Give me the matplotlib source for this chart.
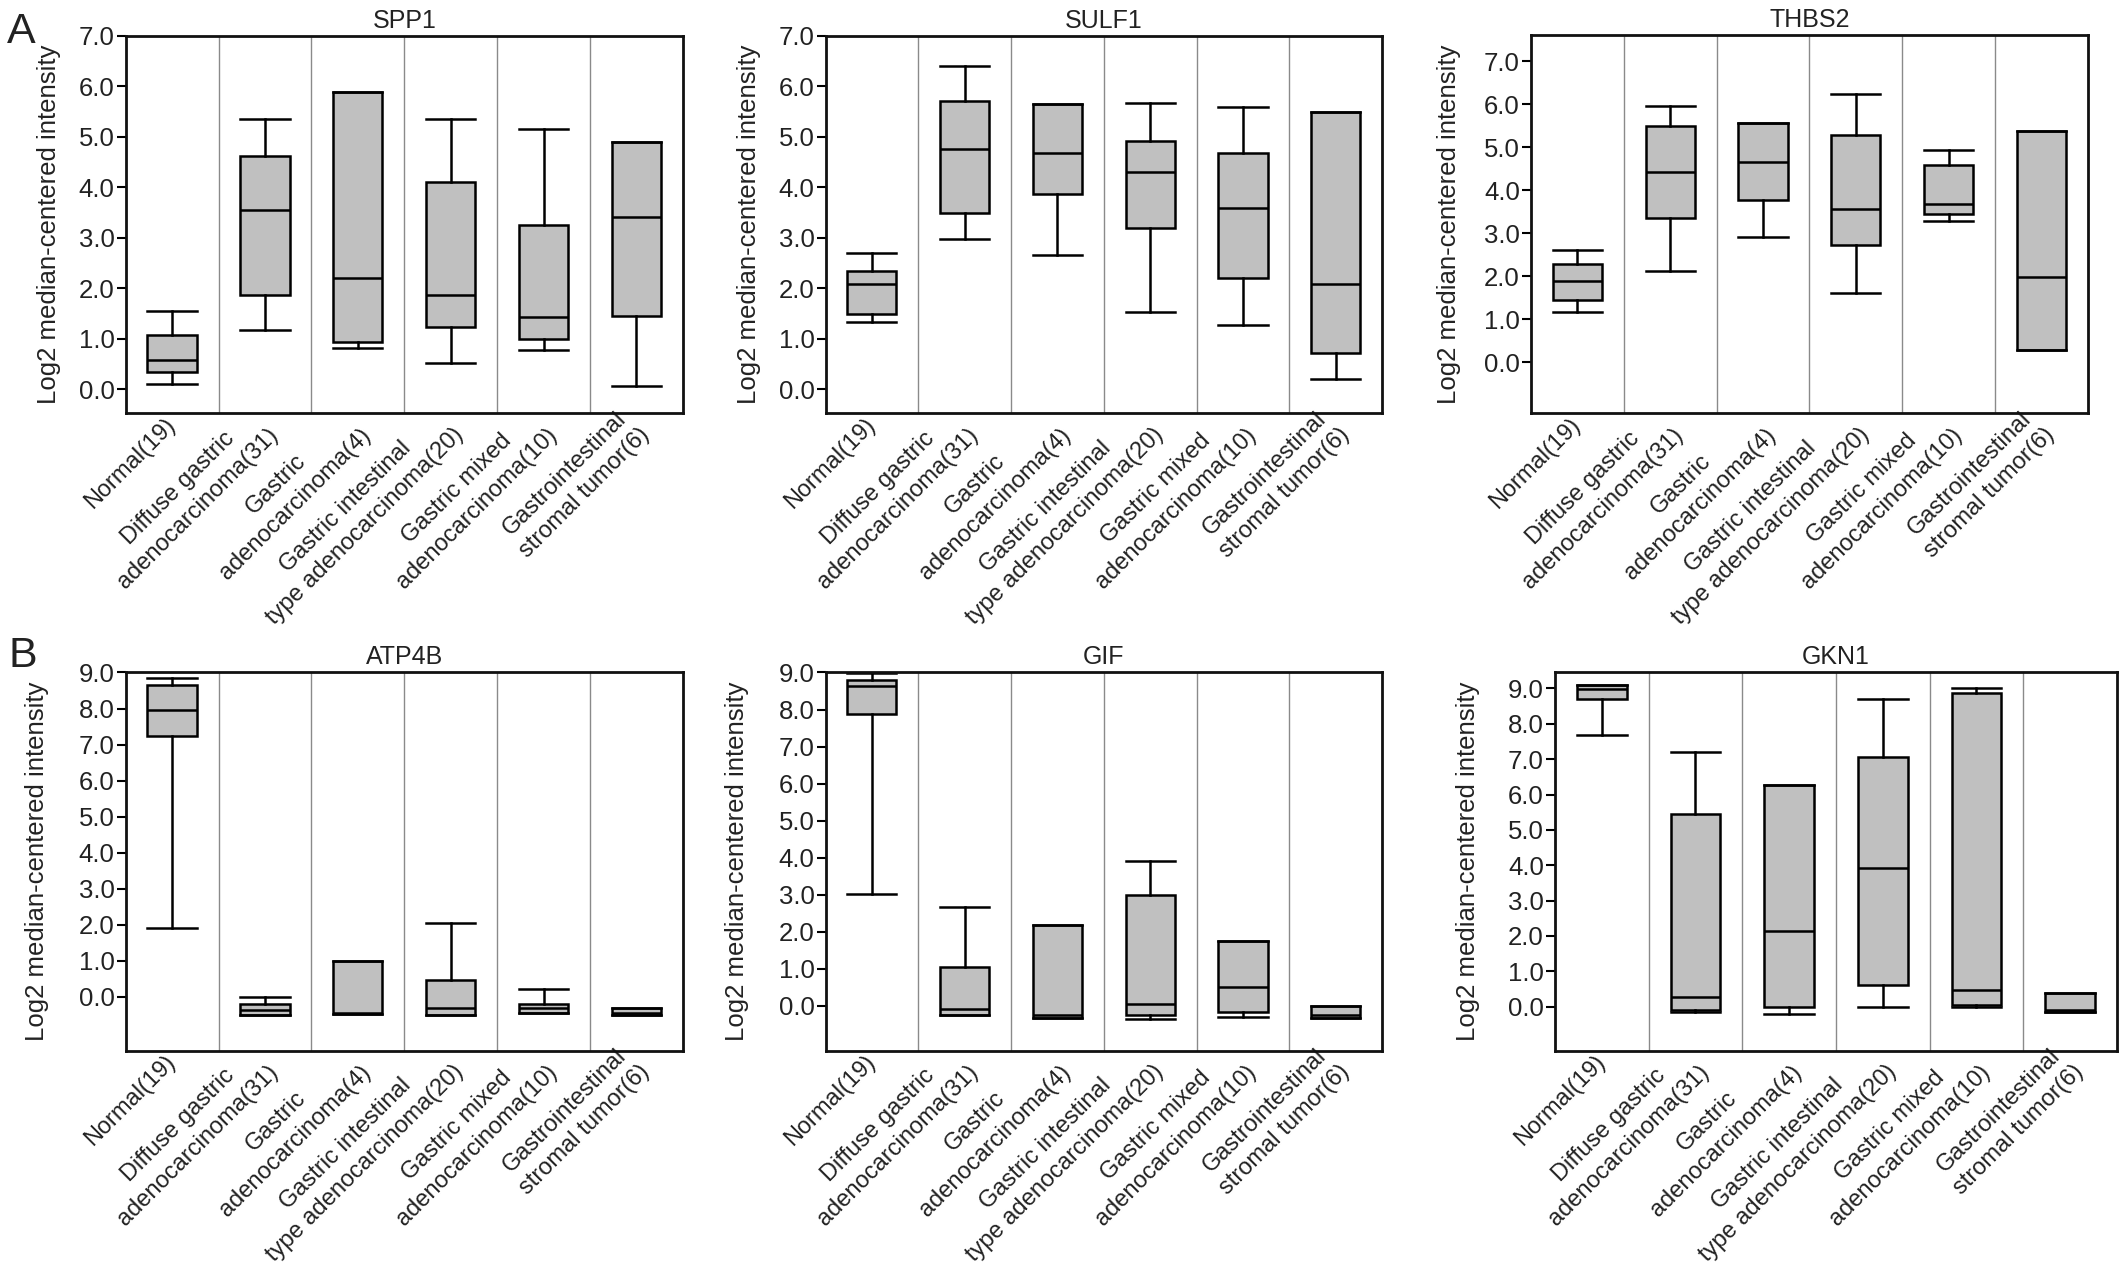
import matplotlib
matplotlib.use('Agg')
import matplotlib.pyplot as plt
from matplotlib.ticker import FormatStrFormatter

plt.rcParams['font.family'] = ['Liberation Sans', 'DejaVu Sans']

# categorias (eixo x)
groups = ["Normal(19)",
          "Diffuse gastric\nadenocarcinoma(31)",
          "Gastric\nadenocarcinoma(4)",
          "Gastric intestinal\ntype adenocarcinoma(20)",
          "Gastric mixed\nadenocarcinoma(10)",
          "Gastrointestinal\nstromal tumor(6)"]

# cada linha: [whisker baixo, Q1, mediana, Q3, whisker alto]
spp1 = [[0.10, 0.34, 0.58, 1.07, 1.55],
        [1.17, 1.87, 3.56, 4.63, 5.35],
        [0.81, 0.94, 2.20, 5.89, 5.89],
        [0.53, 1.23, 1.87, 4.10, 5.35],
        [0.78, 1.00, 1.43, 3.26, 5.16],
        [0.06, 1.46, 3.41, 4.90, 4.90]]

sulf1 = [[1.34, 1.50, 2.08, 2.34, 2.69],
         [2.98, 3.50, 4.76, 5.71, 6.40],
         [2.66, 3.87, 4.68, 5.65, 5.65],
         [1.53, 3.19, 4.31, 4.91, 5.67],
         [1.27, 2.21, 3.60, 4.68, 5.60],
         [0.21, 0.71, 2.08, 5.50, 5.50]]

thbs2 = [[1.16, 1.45, 1.88, 2.28, 2.62],
         [2.12, 3.35, 4.42, 5.49, 5.96],
         [2.91, 3.76, 4.66, 5.56, 5.56],
         [1.61, 2.72, 3.55, 5.27, 6.24],
         [3.29, 3.44, 3.68, 4.59, 4.94],
         [0.29, 0.29, 1.97, 5.38, 5.38]]

atp4b = [[1.92, 7.25, 7.96, 8.65, 8.84],
         [-0.50, -0.50, -0.36, -0.19, 0.00],
         [-0.48, -0.47, -0.44, 0.99, 0.99],
         [-0.50, -0.50, -0.31, 0.48, 2.06],
         [-0.46, -0.44, -0.31, -0.19, 0.21],
         [-0.50, -0.50, -0.45, -0.31, -0.31]]

gif = [[3.02, 7.88, 8.64, 8.80, 8.98],
       [-0.26, -0.24, -0.08, 1.04, 2.66],
       [-0.33, -0.33, -0.24, 2.18, 2.18],
       [-0.36, -0.24, 0.06, 2.98, 3.92],
       [-0.30, -0.16, 0.50, 1.76, 1.76],
       [-0.33, -0.33, -0.24, 0.00, 0.00]]

gkn1 = [[7.67, 8.70, 8.97, 9.09, 9.09],
        [-0.14, -0.10, 0.27, 5.46, 7.20],
        [-0.20, 0.00, 2.14, 6.28, 6.28],
        [-0.02, 0.60, 3.92, 7.07, 8.70],
        [0.00, 0.06, 0.46, 8.87, 9.00],
        [-0.14, -0.14, -0.08, 0.39, 0.39]]

genes = ["SPP1", "SULF1", "THBS2", "ATP4B", "GIF", "GKN1"]
series = [spp1, sulf1, thbs2, atp4b, gif, gkn1]
ylims = [(-0.48, 7.0), (-0.48, 7.0), (-1.19, 7.6),
         (-1.49, 9.0), (-1.21, 9.0), (-1.24, 9.45)]
ymax_tick = [7, 7, 7, 9, 9, 9]

# posicoes dos eixos [left, bottom, width, height] em fracao da figura
positions = [[0.0591, 0.6734, 0.2621, 0.2982],
             [0.3883, 0.6734, 0.2618, 0.2982],
             [0.7201, 0.6734, 0.2620, 0.2988],
             [0.0591, 0.1702, 0.2621, 0.2986],
             [0.3883, 0.1702, 0.2618, 0.2986],
             [0.7314, 0.1702, 0.2643, 0.2986]]
ylabel_x = [-0.1375, -0.138, -0.147, -0.159, -0.159, -0.154]

text_col = '#222222'

fig = plt.figure(figsize=(21.26, 12.66), dpi=100)

for gene, data, ylim, ytop, pos, lx in zip(genes, series, ylims, ymax_tick,
                                          positions, ylabel_x):
    ax = fig.add_axes(pos)
    stats = []
    for row in data:
        stats.append({'whislo': row[0], 'q1': row[1], 'med': row[2],
                      'q3': row[3], 'whishi': row[4], 'fliers': []})
    xs = list(range(1, len(groups) + 1))
    w = [0.53] * len(groups)
    ax.bxp(stats, positions=xs, widths=w, capwidths=w, patch_artist=True,
           showfliers=False,
           boxprops=dict(facecolor='#c0c0c0', edgecolor='black', linewidth=1.8),
           medianprops=dict(color='black', linewidth=1.8),
           whiskerprops=dict(color='black', linewidth=1.8),
           capprops=dict(color='black', linewidth=1.8))

    for sep in range(1, len(groups)):
        ax.axvline(sep + 0.5, color='#8a8a8a', linewidth=1.0, zorder=0)

    ax.set_xlim(0.5, len(groups) + 0.5)
    ax.set_ylim(*ylim)
    ax.set_yticks(range(0, ytop + 1))
    ax.yaxis.set_major_formatter(FormatStrFormatter('%.1f'))
    ax.set_xticks(xs)
    ax.set_xticklabels(groups, rotation=45, ha='right', va='center',
                       rotation_mode='anchor', multialignment='center',
                       linespacing=1.35, fontsize=17, color=text_col)
    ax.tick_params(axis='x', length=0, pad=6)
    ax.tick_params(axis='y', length=6.5, width=1.5, pad=1.5,
                   labelsize=18.5, labelcolor=text_col)
    for sp in ax.spines.values():
        sp.set_linewidth(2.0)
        sp.set_color('#111111')
    ax.set_title(gene, fontsize=18, pad=6, color=text_col)
    ax.set_ylabel('Log2 median-centered intensity', fontsize=18.5,
                  color=text_col, va='center')
    ax.yaxis.set_label_coords(lx, 0.5)

fig.text(0.0033, 0.9664, 'A', fontsize=31, color=text_col, va='baseline')
fig.text(0.0042, 0.4731, 'B', fontsize=31, color=text_col, va='baseline')

fig.savefig('out.png', dpi=100)
